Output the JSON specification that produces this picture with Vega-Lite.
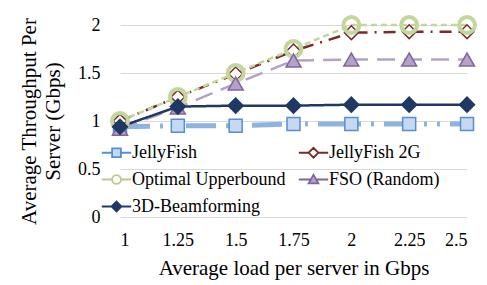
{
  "$schema": "https://vega.github.io/schema/vega-lite/v6.json",
  "width": 347,
  "height": 192,
  "autosize": {"type": "none"},
  "padding": {"left": 120, "top": 25, "right": 20, "bottom": 68},
  "background": "#ffffff",
  "config": {
    "view": {"stroke": null},
    "font": "Liberation Serif",
    "axis": {"labelFont": "Liberation Serif", "titleFont": "Liberation Serif", "labelColor": "#000000", "titleColor": "#000000", "titleFontWeight": "normal"},
    "legend": {"labelFont": "Liberation Serif", "labelFontSize": 18, "labelColor": "#000000"}
  },
  "data": {
    "values": [
      {"series": "JellyFish", "load": 1, "tp": 0.94},
      {"series": "JellyFish", "load": 1.25, "tp": 0.95},
      {"series": "JellyFish", "load": 1.5, "tp": 0.95},
      {"series": "JellyFish", "load": 1.75, "tp": 0.97},
      {"series": "JellyFish", "load": 2, "tp": 0.97},
      {"series": "JellyFish", "load": 2.25, "tp": 0.97},
      {"series": "JellyFish", "load": 2.5, "tp": 0.97},
      {"series": "JellyFish 2G", "load": 1, "tp": 1.0},
      {"series": "JellyFish 2G", "load": 1.25, "tp": 1.25},
      {"series": "JellyFish 2G", "load": 1.5, "tp": 1.49},
      {"series": "JellyFish 2G", "load": 1.75, "tp": 1.73},
      {"series": "JellyFish 2G", "load": 2, "tp": 1.92},
      {"series": "JellyFish 2G", "load": 2.25, "tp": 1.93},
      {"series": "JellyFish 2G", "load": 2.5, "tp": 1.93},
      {"series": "Optimal Upperbound", "load": 1, "tp": 1.0},
      {"series": "Optimal Upperbound", "load": 1.25, "tp": 1.25},
      {"series": "Optimal Upperbound", "load": 1.5, "tp": 1.5},
      {"series": "Optimal Upperbound", "load": 1.75, "tp": 1.75},
      {"series": "Optimal Upperbound", "load": 2, "tp": 2.0},
      {"series": "Optimal Upperbound", "load": 2.25, "tp": 2.0},
      {"series": "Optimal Upperbound", "load": 2.5, "tp": 2.0},
      {"series": "FSO (Random)", "load": 1, "tp": 0.92},
      {"series": "FSO (Random)", "load": 1.25, "tp": 1.14},
      {"series": "FSO (Random)", "load": 1.5, "tp": 1.39},
      {"series": "FSO (Random)", "load": 1.75, "tp": 1.63},
      {"series": "FSO (Random)", "load": 2, "tp": 1.64},
      {"series": "FSO (Random)", "load": 2.25, "tp": 1.64},
      {"series": "FSO (Random)", "load": 2.5, "tp": 1.64},
      {"series": "3D-Beamforming", "load": 1, "tp": 0.94},
      {"series": "3D-Beamforming", "load": 1.25, "tp": 1.15},
      {"series": "3D-Beamforming", "load": 1.5, "tp": 1.16},
      {"series": "3D-Beamforming", "load": 1.75, "tp": 1.16},
      {"series": "3D-Beamforming", "load": 2, "tp": 1.17},
      {"series": "3D-Beamforming", "load": 2.25, "tp": 1.17},
      {"series": "3D-Beamforming", "load": 2.5, "tp": 1.17}
    ]
  },
  "encoding": {
    "x": {
      "field": "load", "type": "quantitative",
      "scale": {"domain": [1, 2.5], "nice": false, "zero": false},
      "axis": {"values": [1, 1.25, 1.5, 1.75, 2, 2.25, 2.5], "format": ".2~f", "grid": false, "domain": false, "ticks": false, "labelFontSize": 18, "labelPadding": 14, "title": "Average load per server in Gbps", "titleFontSize": 21, "titlePadding": 8}
    },
    "y": {
      "field": "tp", "type": "quantitative",
      "scale": {"domain": [0, 2], "nice": false},
      "axis": {"values": [0, 0.5, 1, 1.5, 2], "format": ".1~f", "grid": true, "gridColor": "#d9d9d9", "domain": false, "ticks": false, "labelFontSize": 18, "labelPadding": 20, "title": ["Average Throughput Per", "Server (Gbps)"], "titleFontSize": 21, "titleLineHeight": 24, "titlePadding": 14}
    }
  },
  "layer": [
    {
      "mark": {"type": "line", "strokeCap": "butt"},
      "encoding": {
        "color": {"field": "series", "type": "nominal", "legend": null,
          "scale": {"range": ["#1f3864", "#b3a2c7", "#8db3e2", "#772c2a", "#c3d69b"]}},
        "strokeDash": {"field": "series", "type": "nominal", "legend": null,
          "scale": {"range": [[1, 0], [18, 9], [30, 10, 3, 10, 3, 10], [12, 7, 2, 7], [6, 4]]}},
        "strokeWidth": {"condition": {"test": "datum.series === 'JellyFish'", "value": 5}, "value": 2.5}
      }
    },
    {
      "mark": {"type": "point", "filled": true, "opacity": 1},
      "encoding": {
        "shape": {"field": "series", "type": "nominal", "legend": null,
          "scale": {"range": ["diamond", "triangle-up", "square", "diamond", "circle"]}},
        "fill": {"field": "series", "type": "nominal", "legend": null,
          "scale": {"range": ["#1f3864", "#b3a2c7", "#c6d9f1", "#ffffff", "transparent"]}},
        "stroke": {"field": "series", "type": "nominal", "legend": null,
          "scale": {"range": ["#1f3864", "#8064a2", "#558ed5", "#772c2a", "#c3d69b"]}},
        "strokeWidth": {"condition": {"test": "datum.series === 'Optimal Upperbound'", "value": 4}, "value": 1.5},
        "size": {"condition": [
          {"test": "datum.series === 'JellyFish'", "value": 169},
          {"test": "datum.series === 'Optimal Upperbound'", "value": 256},
          {"test": "datum.series === 'JellyFish 2G'", "value": 190}
        ], "value": 225}
      }
    },
    {
      "transform": [{"filter": "datum.tp < 0"}],
      "mark": {"type": "point", "filled": true, "opacity": 1},
      "encoding": {
        "shape": {"field": "series", "type": "nominal",
          "scale": {"domain": ["JellyFish", "JellyFish 2G", "Optimal Upperbound", "FSO (Random)", "3D-Beamforming"],
            "range": [
              "M-1.2,0H-0.36M0.36,0H1.2M-0.36,-0.36H0.36V0.36H-0.36Z",
              "M-1.2,0H-0.4M0.4,0H1.2M-0.4,0L0,-0.4L0.4,0L0,0.4Z",
              "M-1.2,0H-0.36M0.36,0H1.2M-0.36,0A0.36,0.36 0 1,0 0.36,0A0.36,0.36 0 1,0 -0.36,0Z",
              "M-1.2,0H-0.22M0.22,0H1.2M-0.4,0.32L0,-0.38L0.4,0.32Z",
              "M-1.2,0H-0.4M0.4,0H1.2M-0.4,0L0,-0.4L0.4,0L0,0.4Z"
            ]},
          "legend": {
            "orient": "none", "direction": "horizontal", "legendX": -17, "legendY": 114, "columns": 2, "title": null,
            "symbolSize": 600, "symbolStrokeWidth": 1.8, "symbolOpacity": 1,
            "labelFont": "Liberation Serif", "labelFontSize": 18, "labelColor": "#000000", "labelOffset": 2,
            "columnPadding": 9, "rowPadding": 4, "padding": 0
          }},
        "fill": {"field": "series", "type": "nominal",
          "scale": {"domain": ["JellyFish", "JellyFish 2G", "Optimal Upperbound", "FSO (Random)", "3D-Beamforming"], "range": ["#c6d9f1", "#ffffff", "#ffffff", "#b3a2c7", "#1f3864"]}},
        "stroke": {"field": "series", "type": "nominal",
          "scale": {"domain": ["JellyFish", "JellyFish 2G", "Optimal Upperbound", "FSO (Random)", "3D-Beamforming"], "range": ["#558ed5", "#772c2a", "#b7cc8c", "#8064a2", "#1f3864"]}}
      }
    }
  ],
  "resolve": {"scale": {"shape": "independent", "fill": "independent", "stroke": "independent"}}
}
